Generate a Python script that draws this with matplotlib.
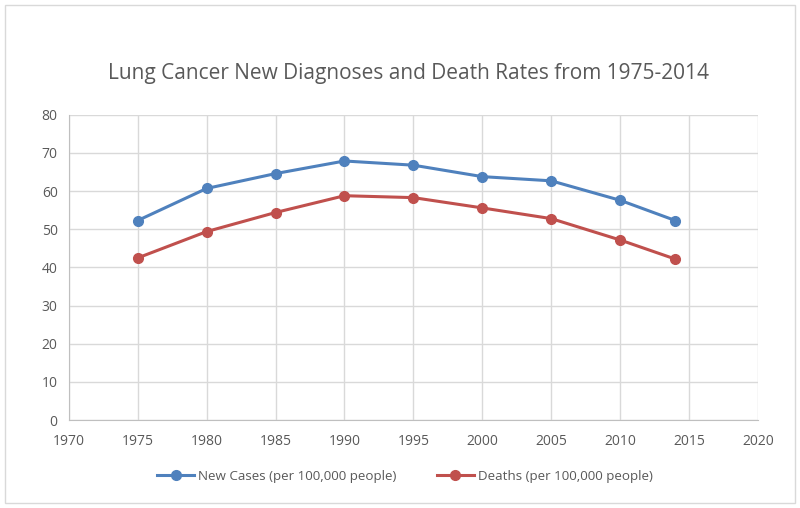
import matplotlib.pyplot as plt
from matplotlib.patches import Rectangle

years = [1975, 1980, 1985, 1990, 1995, 2000, 2005, 2010, 2014]
new_cases = [52.3, 60.7, 64.6, 67.9, 66.8, 63.8, 62.7, 57.6, 52.3]
deaths = [42.5, 49.4, 54.4, 58.8, 58.3, 55.6, 52.8, 47.2, 42.2]
xticks = [1970, 1975, 1980, 1985, 1990, 1995, 2000, 2005, 2010, 2015, 2020]
yticks = [0, 10, 20, 30, 40, 50, 60, 70, 80]

plt.rcParams['font.family'] = ['Open Sans', 'DejaVu Sans']
txt = '#595959'

fig = plt.figure(figsize=(8, 5.08), dpi=100)
fig.patches.append(Rectangle((0.006, 0.01), 0.988, 0.98, transform=fig.transFigure,
                             fill=False, edgecolor='#d9d9d9', lw=1))
ax = fig.add_axes([0.086, 0.173, 0.8615, 0.601])

ax.plot(years, new_cases, color='#4f81bd', lw=2.2, marker='o', ms=7,
        label='New Cases (per 100,000 people)')
ax.plot(years, deaths, color='#c0504d', lw=2.2, marker='o', ms=7,
        label='Deaths (per 100,000 people)')

ax.set_xlim(1970, 2020)
ax.set_ylim(0, 80)
ax.set_xticks(xticks)
ax.set_yticks(yticks)
ax.grid(True, color='#d9d9d9', lw=1)
ax.set_axisbelow(True)
for s in ['top', 'right']:
    ax.spines[s].set_visible(False)
ax.spines['left'].set_color('#bfbfbf')
ax.spines['bottom'].set_color('#bfbfbf')
ax.tick_params(axis='x', pad=10)
ax.tick_params(length=0, colors=txt, labelsize=10)
ax.tick_params(axis='y', pad=8)

fig.text(0.51, 0.855, 'Lung Cancer New Diagnoses and Death Rates from 1975-2014',
         ha='center', va='center', fontsize=15, color=txt)

fig.legend(loc='center', bbox_to_anchor=(0.506, 0.062), ncol=2, frameon=False,
           fontsize=9.6, labelcolor=txt, handlelength=2.8, columnspacing=3,
           handletextpad=0.3)

fig.savefig('out.png', dpi=100)
